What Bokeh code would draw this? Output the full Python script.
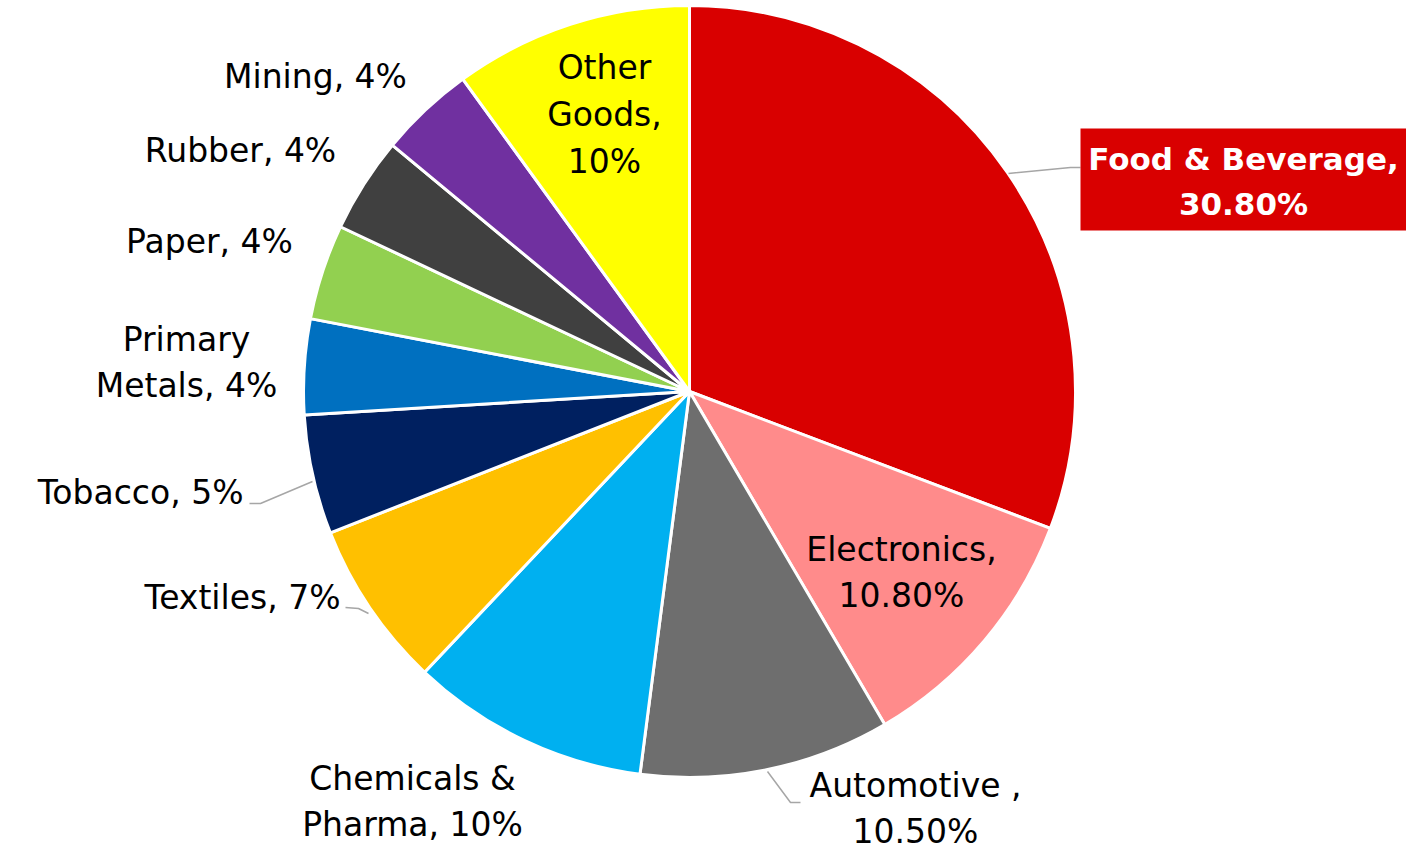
import math
from bokeh.plotting import figure
from bokeh.models import Range1d, ColumnDataSource
from bokeh.core.properties import value
from bokeh.embed import file_html
from bokeh.resources import INLINE

# ---- data ----
categories = ["Food & Beverage", "Electronics", "Automotive", "Chemicals & Pharma",
              "Textiles", "Tobacco", "Primary Metals", "Paper", "Rubber", "Mining", "Other Goods"]
shares = [30.8, 10.8, 10.5, 10.0, 7.0, 5.0, 4.0, 4.0, 4.0, 4.0, 10.0]
labels = ["Food & Beverage,\n30.80%", "Electronics,\n10.80%", "Automotive ,\n10.50%",
          "Chemicals &\nPharma, 10%", "Textiles, 7%", "Tobacco, 5%", "Primary\nMetals, 4%",
          "Paper, 4%", "Rubber, 4%", "Mining, 4%", "Other\nGoods,\n10%"]
colors = ["#D90000", "#FF8B8B", "#6E6E6E", "#00B0F0", "#FFC000", "#002060",
          "#0070C0", "#92D050", "#404040", "#7030A0", "#FFFF00"]

# ---- layout (pixels, y measured from top) ----
W, H = 1406, 852
CX, CY, R = 689, 391, 386
label_pos = [(1243, 181), (901, 572), (915, 808), (412, 801), (340, 597), (243, 492),
             (186, 362), (209, 241), (240, 150), (315, 76), (604, 114)]
label_align = ["center", "center", "center", "center", "right", "right",
               "center", "center", "center", "center", "center"]
leaders = {2: [(767, 771), (790, 802), (800, 802)],
           5: [(312, 481), (260, 503), (249, 503)],
           4: [(368, 613), (358, 608), (345, 607)],
           0: [(1008, 173), (1070, 167), (1080, 167)]}

def fy(y):
    return H - y

p = figure(width=W, height=H, output_backend="svg", toolbar_location=None,
           x_range=Range1d(0, W), y_range=Range1d(0, H), min_border=0)
p.axis.visible = False
p.grid.visible = False
p.outline_line_color = None
p.background_fill_color = "white"
p.border_fill_color = "white"

total = sum(shares)
starts, ends = [], []
cum = 0.0
for s in shares:
    starts.append(math.radians(90 - cum / total * 360))
    cum += s
    ends.append(math.radians(90 - cum / total * 360))

src = ColumnDataSource(dict(start=starts, end=ends, color=colors))
p.wedge(x=CX, y=fy(CY), radius=R, start_angle="start", end_angle="end",
        direction="clock", fill_color="color", line_color="white", line_width=3,
        source=src)

# leader lines
for i, pts in leaders.items():
    p.line([q[0] for q in pts], [fy(q[1]) for q in pts], line_color="#A6A6A6", line_width=1.5)

# highlight box for the largest slice
p.quad(left=1080, right=1406, top=fy(128), bottom=fy(230), fill_color=colors[0], line_color=None)

for i, lab in enumerate(labels):
    x, y = label_pos[i]
    bold = i == 0
    p.text(x=[x], y=[fy(y)], text=[lab], text_align=label_align[i], text_baseline="middle",
           text_font=value("DejaVu Sans"), text_font_size="31px" if bold else "33px",
           text_font_style="bold" if bold else "normal",
           text_color="white" if bold else "black",
           text_line_height=1.26 if bold else 1.2)

open("out.html", "w").write(file_html(p, INLINE))
